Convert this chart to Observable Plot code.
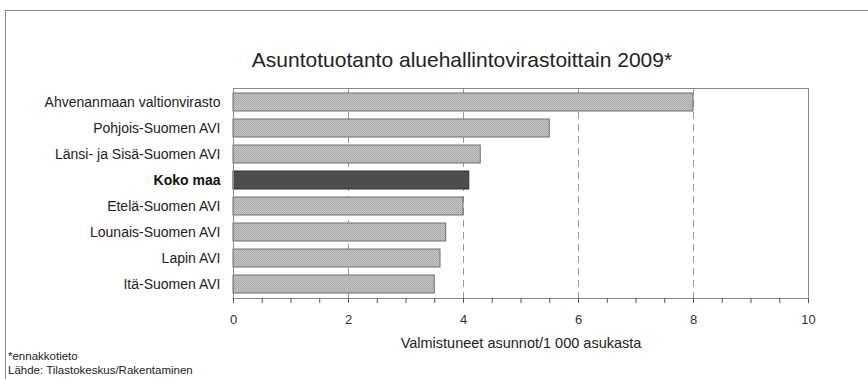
<!DOCTYPE html>
<html>
<head>
<meta charset="utf-8">
<script src="https://cdn.jsdelivr.net/npm/d3@7"></script>
<script src="https://cdn.jsdelivr.net/npm/@observablehq/plot@0.6"></script>
<style>
  html, body { margin: 0; padding: 0; background: #fff; }
  #wrap { position: relative; width: 868px; height: 379px; overflow: hidden; font-family: "Liberation Sans", Arial, sans-serif; }
  #border { position: absolute; left: 5px; top: 10px; width: 880px; height: 400px; border-left: 1px solid #8a8a8a; border-top: 1px solid #8a8a8a; }
  #title { position: absolute; left: 0; width: 924px; top: 48px; text-align: center; font-size: 21px; line-height: 24px; color: #222; }
  .foot { position: absolute; left: 8px; font-size: 11.5px; line-height: 14px; color: #222; }
  #chart { position: absolute; left: 0; top: 0; }
</style>
</head>
<body>
<div id="wrap">
  <div id="border"></div>
  <div id="chart"></div>
  <div id="title">Asuntotuotanto aluehallintovirastoittain 2009*</div>
  <div class="foot" style="top:349px">*ennakkotieto</div>
  <div class="foot" style="top:363px">Lähde: Tilastokeskus/Rakentaminen</div>
</div>
<script>
const regions = [
  "Ahvenanmaan valtionvirasto",
  "Pohjois-Suomen AVI",
  "Länsi- ja Sisä-Suomen AVI",
  "Koko maa",
  "Etelä-Suomen AVI",
  "Lounais-Suomen AVI",
  "Lapin AVI",
  "Itä-Suomen AVI"
];
const values = [8.0, 5.5, 4.3, 4.1, 4.0, 3.7, 3.6, 3.5];
const highlight = "Koko maa";
const xTicks = [0, 2, 4, 6, 8, 10];
const xMinorTicks = d3.range(0, 10.01, 0.5);
const gridTicks = [2, 4, 6, 8];
const xLabel = "Valmistuneet asunnot/1 000 asukasta";

const data = regions.map((r, i) => ({region: r, value: values[i]}));
const normal = data.filter(d => d.region !== highlight);
const hi = data.filter(d => d.region === highlight);

const chart = Plot.plot({
  width: 868,
  height: 379,
  marginLeft: 233,
  marginRight: 60,
  marginTop: 88,
  marginBottom: 81,
  style: {fontFamily: "'Liberation Sans', Arial, sans-serif", fontSize: "12px", color: "#222", background: "transparent"},
  x: {domain: [0, 10]},
  y: {domain: regions, paddingInner: 0.32, paddingOuter: 0.15, axis: null},
  marks: [
    Plot.gridX(gridTicks, {stroke: "#9a9a9a", strokeOpacity: 1, strokeDasharray: "7,5"}),
    Plot.barX(normal, {x: "value", y: "region", fill: "url(#dotpat)", stroke: "#6e6e6e", strokeWidth: 1}),
    Plot.barX(hi, {x: "value", y: "region", fill: "#4d4d4d", stroke: "#333", strokeWidth: 1}),
    Plot.frame({stroke: "#8a8a8a"}),
    Plot.axisX(xMinorTicks, {tickSize: 5, tickFormat: () => "", stroke: "#555", label: null}),
    Plot.axisX(xTicks, {tickSize: 0, tickPadding: 16, fontSize: 13, fill: "#333", label: null}),
    Plot.text([xLabel], {frameAnchor: "bottom", dy: 49, text: d => d, fontSize: 14.5, fill: "#222"}),
    Plot.text(normal, {x: 0, y: "region", text: "region", textAnchor: "end", dx: -13, fontSize: 14, fill: "#222"}),
    Plot.text(hi, {x: 0, y: "region", text: "region", textAnchor: "end", dx: -13, fontSize: 14, fontWeight: "bold", fill: "#111"})
  ]
});

const ns = "http://www.w3.org/2000/svg";
const defs = document.createElementNS(ns, "defs");
defs.innerHTML = `<pattern id="dotpat" width="2" height="2" patternUnits="userSpaceOnUse">
  <rect width="2" height="2" fill="#c3c3c3"/>
  <rect x="0" y="0" width="1" height="1" fill="#a6a6a6"/>
  <rect x="1" y="1" width="1" height="1" fill="#b0b0b0"/>
</pattern>`;
chart.insertBefore(defs, chart.firstChild);
document.getElementById("chart").appendChild(chart);
</script>
</body>
</html>
